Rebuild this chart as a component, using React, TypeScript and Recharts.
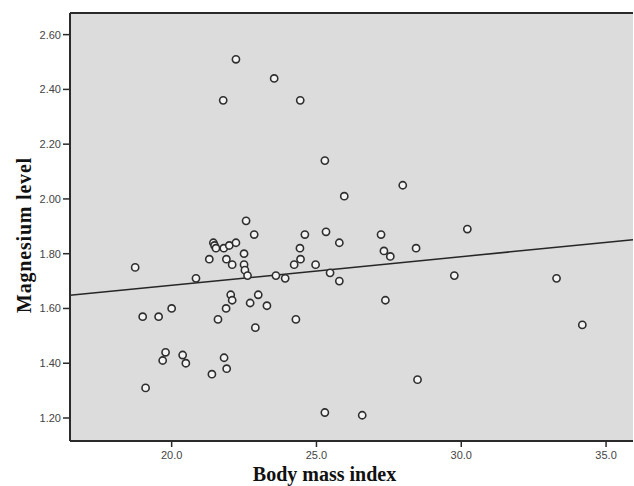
import { ScatterChart, Scatter, XAxis, YAxis, CartesianGrid, ReferenceLine } from 'recharts'

const bmi = [
  18.74, 19.0, 19.1, 19.55, 19.69, 19.79, 20.0, 20.38, 20.49, 20.84,
  21.3, 21.39, 21.44, 21.48, 21.53, 21.6, 21.78, 21.8, 21.81, 21.89,
  21.88, 21.9, 21.99, 22.04, 22.09, 22.09, 22.22, 22.22, 22.5, 22.5,
  22.53, 22.57, 22.62, 22.71, 22.85, 22.89, 22.99, 23.29, 23.54, 23.6,
  23.92, 24.23, 24.29, 24.43, 24.44, 24.45, 24.6, 24.97, 25.29, 25.29,
  25.33, 25.47, 25.79, 25.79, 25.96, 26.58, 27.23, 27.33, 27.38, 27.55,
  27.98, 28.44, 28.49, 29.76, 30.21, 33.29, 34.18,
]
const magnesium = [
  1.75, 1.57, 1.31, 1.57, 1.41, 1.44, 1.6, 1.43, 1.4, 1.71,
  1.78, 1.36, 1.84, 1.83, 1.82, 1.56, 2.36, 1.82, 1.42, 1.78,
  1.6, 1.38, 1.83, 1.65, 1.76, 1.63, 2.51, 1.84, 1.8, 1.76,
  1.74, 1.92, 1.72, 1.62, 1.87, 1.53, 1.65, 1.61, 2.44, 1.72,
  1.71, 1.76, 1.56, 1.82, 2.36, 1.78, 1.87, 1.76, 2.14, 1.22,
  1.88, 1.73, 1.84, 1.7, 2.01, 1.21, 1.87, 1.81, 1.63, 1.79,
  2.05, 1.82, 1.34, 1.72, 1.89, 1.71, 1.54,
]
// fit line end points
const fitLine = [
  { x: 16.49, y: 1.648 },
  { x: 35.93, y: 1.851 },
]
const xTicks = [20, 25, 30, 35]
const yTicks = [1.2, 1.4, 1.6, 1.8, 2.0, 2.2, 2.4, 2.6]

const points = bmi.map((x, i) => ({ x, y: magnesium[i] }))

const tickStyle = { fill: '#444', fontSize: 11, fontFamily: 'Liberation Sans, Arial, sans-serif' }
const titleFont = 'Liberation Serif, Times New Roman, serif'

const Ring = (props: any) => (
  <circle cx={props.cx} cy={props.cy} r={3.6} fill="#f4f4f4" stroke="#2e2e2e" strokeWidth={1.6} />
)

export default function App() {
  return (
    <div style={{ position: 'absolute', left: 0, top: 0, background: '#fff' }}>
      <ScatterChart width={634} height={486} margin={{ top: 13, right: 1, bottom: 0, left: 0 }}>
        <CartesianGrid fill="#dcdcdc" horizontal={false} vertical={false} />
        <XAxis
          type="number"
          dataKey="x"
          domain={[16.49, 35.93]}
          ticks={xTicks}
          tickFormatter={(v: number) => v.toFixed(1)}
          tick={tickStyle}
          tickSize={6}
          tickMargin={4}
          height={45}
          axisLine={{ stroke: '#2a2a2a', strokeWidth: 2 }}
          tickLine={{ stroke: '#2a2a2a', strokeWidth: 1.5 }}
          allowDataOverflow
          label={{
            value: 'Body mass index', position: 'insideBottom', offset: 5, dx: -27,
            style: { fill: '#111', fontSize: 20, fontWeight: 'bold', fontFamily: titleFont },
          }}
        />
        <YAxis
          type="number"
          dataKey="y"
          domain={[1.116, 2.679]}
          ticks={yTicks}
          tickFormatter={(v: number) => v.toFixed(2)}
          tick={tickStyle}
          tickSize={7}
          tickMargin={2}
          width={70}
          axisLine={{ stroke: '#2a2a2a', strokeWidth: 2 }}
          tickLine={{ stroke: '#2a2a2a', strokeWidth: 1.5 }}
          allowDataOverflow
          label={{
            value: 'Magnesium level', angle: -90, position: 'insideLeft', offset: 24, dy: 8,
            style: { textAnchor: 'middle', fill: '#111', fontSize: 20, letterSpacing: 0.8, fontWeight: 'bold', fontFamily: titleFont },
          }}
        />
        <ReferenceLine y={2.679} stroke="#2a2a2a" strokeWidth={2} ifOverflow="visible" />
        <ReferenceLine
          segment={fitLine}
          stroke="#262626"
          strokeWidth={1.5}
          ifOverflow="visible"
        />
        <Scatter data={points} shape={Ring} isAnimationActive={false} />
      </ScatterChart>
    </div>
  )
}
